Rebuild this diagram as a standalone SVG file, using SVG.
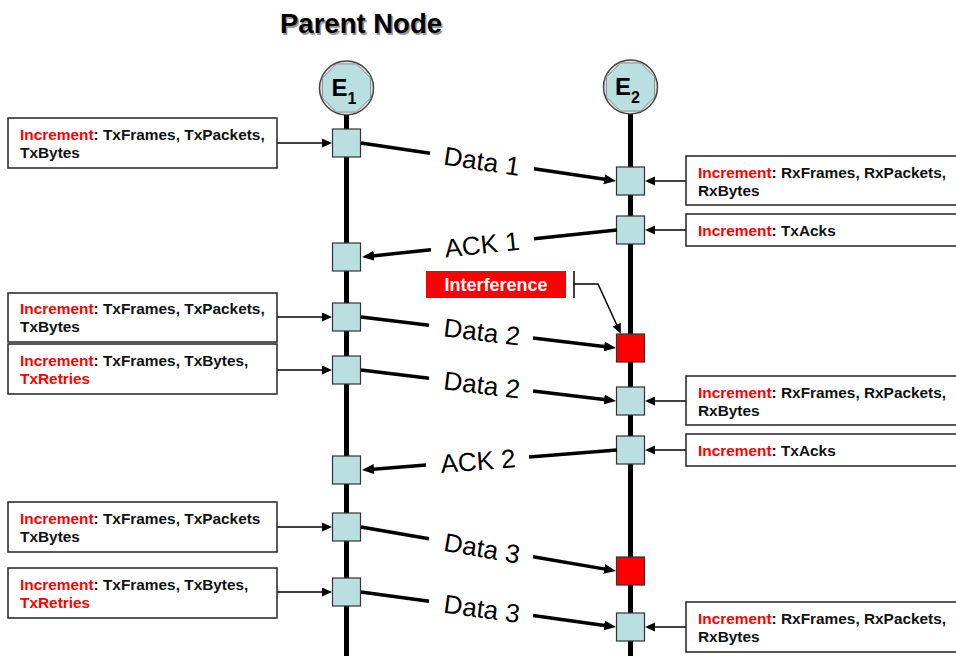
<svg xmlns="http://www.w3.org/2000/svg" width="956" height="656" viewBox="0 0 956 656">
  <style>
    .lifeline { stroke: #000; stroke-width: 5; fill: none; }
    .sq { fill: #b9dfe0; stroke: #333; stroke-width: 1.2; }
    .sq-red { fill: #ff0000; stroke: #333; stroke-width: 1.2; }
    .box { fill: #fff; stroke: #222; stroke-width: 1.5; }
    .btxt { font-family: "Liberation Sans", Arial, sans-serif; font-weight: bold; font-size: 15.4px; fill: #111; }
    .inc { fill: #ff0000; }
    .msg { stroke: #000; stroke-width: 3.5; fill: none; }
    .msg-head { stroke: #000; stroke-width: 3.5; fill: none; marker-end: url(#bigArrow); }
    .lead { stroke: #000; stroke-width: 1.5; fill: none; marker-end: url(#smallArrow); }
    .mlabel { font-family: "Liberation Sans", Arial, sans-serif; font-size: 26px; fill: #000; text-anchor: middle; }
    .ename { font-family: "Liberation Sans", Arial, sans-serif; font-weight: bold; font-size: 24px; fill: #000; }
    .esub { font-size: 16px; }
  </style>
  <defs>
    <marker id="bigArrow" markerUnits="userSpaceOnUse" markerWidth="13" markerHeight="11" refX="4" refY="5" orient="auto">
      <path d="M0,0 L12,5 L0,10 z" fill="#000"/>
    </marker>
    <marker id="smallArrow" markerUnits="userSpaceOnUse" markerWidth="11" markerHeight="10" refX="2" refY="4.5" orient="auto">
      <path d="M0,0 L10,4.5 L0,9 z" fill="#000"/>
    </marker>
    <g id="endpointIcon">
      <circle cx="0" cy="0" r="27" fill="#e8e8e8" stroke="#444" stroke-width="1.5"/>
      <polygon points="10.0,-24.1 24.1,-10.0 24.1,10.0 10.0,24.1 -10.0,24.1 -24.1,10.0 -24.1,-10.0 -10.0,-24.1" fill="#b9dfe0" stroke="#888" stroke-width="1"/>
    </g>
  </defs>

  <!-- Title -->
  <g id="title">
    <text x="281.5" y="34.5" font-family="Liberation Sans, Arial, sans-serif" font-weight="bold" font-size="27.5" fill="#999">Parent Node</text>
    <text x="280" y="33" font-family="Liberation Sans, Arial, sans-serif" font-weight="bold" font-size="27.5" fill="#000">Parent Node</text>
  </g>

  <!-- Lifelines -->
  <g id="lifelines">
    <line class="lifeline" x1="346.5" y1="114" x2="346.5" y2="656"/>
    <line class="lifeline" x1="630.5" y1="114" x2="630.5" y2="656"/>
  </g>

  <!-- Endpoints -->
  <g id="E1">
    <use href="#endpointIcon" x="346.5" y="88"/>
    <text class="ename" x="331.5" y="96">E<tspan class="esub" dy="8">1</tspan></text>
  </g>
  <g id="E2">
    <use href="#endpointIcon" x="630.5" y="87"/>
    <text class="ename" x="615" y="95">E<tspan class="esub" dy="8">2</tspan></text>
  </g>

  <!-- Event points on E1 -->
  <g id="e1-events">
    <rect class="sq" x="332.5" y="129" width="28" height="28"/>
    <rect class="sq" x="332.5" y="243" width="28" height="28"/>
    <rect class="sq" x="332.5" y="303" width="28" height="28"/>
    <rect class="sq" x="332.5" y="356" width="28" height="28"/>
    <rect class="sq" x="332.5" y="456" width="28" height="28"/>
    <rect class="sq" x="332.5" y="513" width="28" height="28"/>
    <rect class="sq" x="332.5" y="578" width="28" height="28"/>
  </g>

  <!-- Event points on E2 -->
  <g id="e2-events">
    <rect class="sq" x="616.5" y="167" width="28" height="28"/>
    <rect class="sq" x="616.5" y="216" width="28" height="28"/>
    <rect class="sq-red" x="616.5" y="334" width="28" height="28"/>
    <rect class="sq" x="616.5" y="387" width="28" height="28"/>
    <rect class="sq" x="616.5" y="436" width="28" height="28"/>
    <rect class="sq-red" x="616.5" y="557" width="28" height="28"/>
    <rect class="sq" x="616.5" y="613" width="28" height="28"/>
  </g>

  <!-- Messages between endpoints -->
  <g id="connectors">
    <!-- Data 1 -->
    <line class="msg" x1="361" y1="143" x2="430" y2="153.3"/>
    <line class="msg-head" x1="534" y1="168.8" x2="608.1" y2="179.8"/>
    <text class="mlabel" x="482" y="170.3" transform="rotate(8.5 482 161)">Data 1</text>
    <!-- ACK 1 -->
    <line class="msg" x1="617" y1="230" x2="534" y2="238.8"/>
    <line class="msg-head" x1="431" y1="249.7" x2="370" y2="256.2"/>
    <text class="mlabel" x="482" y="253.6" transform="rotate(-6 482 244.3)">ACK 1</text>
    <!-- Data 2 (lost) -->
    <line class="msg" x1="361" y1="317" x2="429" y2="325.3"/>
    <line class="msg-head" x1="533" y1="337.9" x2="608.1" y2="347"/>
    <text class="mlabel" x="482" y="341" transform="rotate(6.9 482 331.7)">Data 2</text>
    <!-- Data 2 (retry) -->
    <line class="msg" x1="361" y1="370" x2="429" y2="378.3"/>
    <line class="msg-head" x1="533" y1="390.9" x2="608.1" y2="400"/>
    <text class="mlabel" x="482" y="394" transform="rotate(6.9 482 384.7)">Data 2</text>
    <!-- ACK 2 -->
    <line class="msg" x1="617" y1="450" x2="529" y2="456.9"/>
    <line class="msg-head" x1="426" y1="465" x2="370" y2="469.4"/>
    <text class="mlabel" x="478" y="470.2" transform="rotate(-4.5 478 460.9)">ACK 2</text>
    <!-- Data 3 (lost) -->
    <line class="msg" x1="361" y1="527" x2="429" y2="538.7"/>
    <line class="msg-head" x1="533" y1="556.7" x2="608.1" y2="569.6"/>
    <text class="mlabel" x="482" y="557.3" transform="rotate(9.8 482 548)">Data 3</text>
    <!-- Data 3 (retry) -->
    <line class="msg" x1="361" y1="592" x2="429" y2="601.3"/>
    <line class="msg-head" x1="533" y1="615.6" x2="608.1" y2="625.9"/>
    <text class="mlabel" x="482" y="617.9" transform="rotate(7.8 482 608.6)">Data 3</text>

    <!-- Counter callouts, left side -->
    <line class="lead" x1="277" y1="143" x2="324" y2="143"/>
    <line class="lead" x1="277" y1="317" x2="324" y2="317"/>
    <line class="lead" x1="277" y1="370" x2="324" y2="370"/>
    <line class="lead" x1="277" y1="527" x2="324" y2="527"/>
    <line class="lead" x1="277" y1="592" x2="324" y2="592"/>
    <!-- Counter callouts, right side -->
    <line class="lead" x1="686" y1="181" x2="653" y2="181"/>
    <line class="lead" x1="686" y1="230" x2="653" y2="230"/>
    <line class="lead" x1="686" y1="401" x2="653" y2="401"/>
    <line class="lead" x1="686" y1="450" x2="653" y2="450"/>
    <line class="lead" x1="686" y1="627" x2="653" y2="627"/>

    <!-- Interference pointer -->
    <line x1="574" y1="271" x2="574" y2="298" stroke="#000" stroke-width="1.5"/>
    <polyline points="574,284 598,284 617.5,326.5" fill="none" stroke="#000" stroke-width="1.5" marker-end="url(#smallArrow)"/>
  </g>

  <!-- Interference label -->
  <g id="interference">
    <rect x="426" y="271" width="140" height="27" fill="#ff0000"/>
    <text x="496" y="291" font-family="Liberation Sans, Arial, sans-serif" font-weight="bold" font-size="18" fill="#fff" text-anchor="middle">Interference</text>
  </g>

  <!-- Counter notes, E1 side -->
  <g id="note-l1">
    <rect class="box" x="8" y="118" width="269" height="50"/>
    <text class="btxt" x="20" y="139.5"><tspan class="inc">Increment</tspan>: TxFrames, TxPackets,</text>
    <text class="btxt" x="20" y="157.5">TxBytes</text>
  </g>
  <g id="note-l2">
    <rect class="box" x="8" y="293" width="269" height="49"/>
    <text class="btxt" x="20" y="314"><tspan class="inc">Increment</tspan>: TxFrames, TxPackets,</text>
    <text class="btxt" x="20" y="332">TxBytes</text>
  </g>
  <g id="note-l3">
    <rect class="box" x="8" y="344" width="269" height="50"/>
    <text class="btxt" x="20" y="365.5"><tspan class="inc">Increment</tspan>: TxFrames, TxBytes,</text>
    <text class="btxt inc" x="20" y="383.5">TxRetries</text>
  </g>
  <g id="note-l4">
    <rect class="box" x="8" y="502" width="269" height="50"/>
    <text class="btxt" x="20" y="523.5"><tspan class="inc">Increment</tspan>: TxFrames, TxPackets</text>
    <text class="btxt" x="20" y="541.5">TxBytes</text>
  </g>
  <g id="note-l5">
    <rect class="box" x="8" y="568" width="269" height="50"/>
    <text class="btxt" x="20" y="589.5"><tspan class="inc">Increment</tspan>: TxFrames, TxBytes,</text>
    <text class="btxt inc" x="20" y="607.5">TxRetries</text>
  </g>

  <!-- Counter notes, E2 side -->
  <g id="note-r1">
    <rect class="box" x="686" y="156" width="280" height="49"/>
    <text class="btxt" x="698" y="177.5"><tspan class="inc">Increment</tspan>: RxFrames, RxPackets,</text>
    <text class="btxt" x="698" y="195.5">RxBytes</text>
  </g>
  <g id="note-r2">
    <rect class="box" x="686" y="214" width="280" height="32"/>
    <text class="btxt" x="698" y="236"><tspan class="inc">Increment</tspan>: TxAcks</text>
  </g>
  <g id="note-r3">
    <rect class="box" x="686" y="376" width="280" height="49"/>
    <text class="btxt" x="698" y="397.5"><tspan class="inc">Increment</tspan>: RxFrames, RxPackets,</text>
    <text class="btxt" x="698" y="415.5">RxBytes</text>
  </g>
  <g id="note-r4">
    <rect class="box" x="686" y="434" width="280" height="32"/>
    <text class="btxt" x="698" y="456"><tspan class="inc">Increment</tspan>: TxAcks</text>
  </g>
  <g id="note-r5">
    <rect class="box" x="686" y="602" width="280" height="50"/>
    <text class="btxt" x="698" y="623.5"><tspan class="inc">Increment</tspan>: RxFrames, RxPackets,</text>
    <text class="btxt" x="698" y="641.5">RxBytes</text>
  </g>
</svg>
